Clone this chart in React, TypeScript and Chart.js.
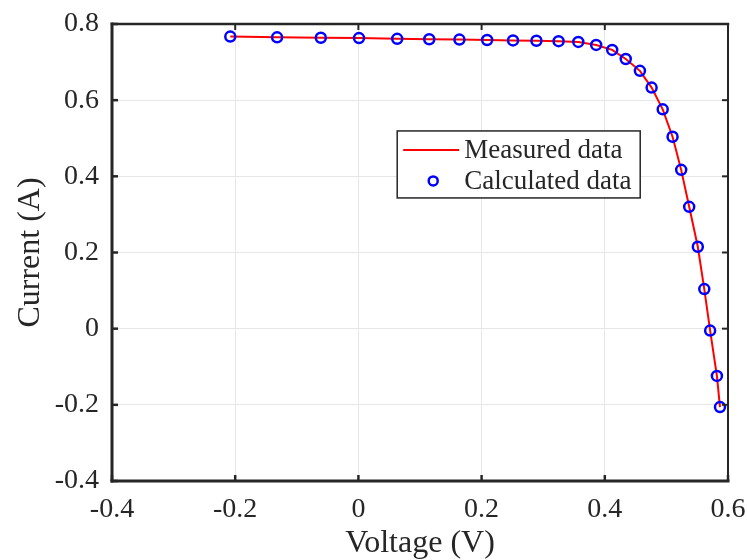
import React, { useEffect, useRef } from "react";
import { Chart, registerables } from "chart.js";

Chart.register(...registerables);

// Voltage (V) and current (A)
const measuredVoltage = [-0.208, -0.132, -0.061, 0.001, 0.063, 0.115, 0.164, 0.209, 0.251, 0.289, 0.325, 0.357, 0.386, 0.412, 0.434, 0.457, 0.476, 0.494, 0.510, 0.524, 0.537, 0.551, 0.5615, 0.571, 0.582, 0.587];
const measuredCurrent = [0.767, 0.765, 0.764, 0.763, 0.761, 0.760, 0.759, 0.758, 0.757, 0.756, 0.755, 0.753, 0.745, 0.732, 0.708, 0.677, 0.633, 0.576, 0.504, 0.417, 0.320, 0.215, 0.104, -0.005, -0.124, -0.206];
const calculatedVoltage = [-0.208, -0.132, -0.061, 0.001, 0.063, 0.115, 0.164, 0.209, 0.251, 0.289, 0.325, 0.357, 0.386, 0.412, 0.434, 0.457, 0.476, 0.494, 0.510, 0.524, 0.537, 0.551, 0.5615, 0.571, 0.582, 0.587];
const calculatedCurrent = [0.767, 0.765, 0.764, 0.763, 0.761, 0.760, 0.759, 0.758, 0.757, 0.756, 0.755, 0.753, 0.745, 0.732, 0.708, 0.677, 0.633, 0.576, 0.504, 0.417, 0.320, 0.215, 0.104, -0.005, -0.124, -0.206];

const xTicks = [-0.4, -0.2, 0, 0.2, 0.4, 0.6];
const yTicks = [-0.4, -0.2, 0, 0.2, 0.4, 0.6, 0.8];
const seriesLabels = ["Measured data", "Calculated data"];
const xTitle = "Voltage (V)";
const yTitle = "Current (A)";

const FONT = "'Liberation Serif', 'Times New Roman', serif";
const INK = "#262626";

const fmt = (v: number) => {
  const r = Math.round(v * 10) / 10;
  return r === 0 ? "0" : String(r);
};

const framePlugin = {
  id: "frame",
  afterDatasetsDraw(chart: any) {
    const { ctx, chartArea: a, scales } = chart;
    const xs = scales.x;
    const ys = scales.y;
    ctx.save();
    ctx.strokeStyle = INK;
    const line = (x1: number, y1: number, x2: number, y2: number, w: number) => {
      ctx.lineWidth = w;
      ctx.beginPath();
      ctx.moveTo(x1, y1);
      ctx.lineTo(x2, y2);
      ctx.stroke();
    };
    const tl = 6;
    ctx.lineCap = "butt";
    xTicks.forEach((t) => {
      const px = xs.getPixelForValue(t);
      line(px, a.bottom, px, a.bottom - tl, 2.5);
      line(px, a.top, px, a.top + tl, 2);
    });
    yTicks.forEach((t) => {
      const py = ys.getPixelForValue(t);
      line(a.left, py, a.left + tl, py, 2.5);
      line(a.right, py, a.right - tl, py, 2);
    });
    ctx.lineCap = "square";
    line(a.left, a.top, a.right, a.top, 2.5);
    line(a.right, a.top, a.right, a.bottom, 2);
    line(a.left, a.top, a.left, a.bottom, 3);
    line(a.left, a.bottom, a.right, a.bottom, 3);
    ctx.restore();
  },
};

const legendPlugin = {
  id: "boxLegend",
  afterDraw(chart: any) {
    const { ctx, chartArea: a } = chart;
    const w = a.right - a.left;
    const h = a.bottom - a.top;
    const bx = a.left + w * 0.463;
    const by = a.top + h * 0.234;
    const bw = 243;
    const bh = 67;
    ctx.save();
    ctx.fillStyle = "#ffffff";
    ctx.fillRect(bx, by, bw, bh);
    ctx.strokeStyle = INK;
    ctx.lineWidth = 1.5;
    ctx.strokeRect(bx, by, bw, bh);
    const y1 = by + 19;
    const y2 = by + 50;
    ctx.strokeStyle = "#ff0000";
    ctx.lineWidth = 2;
    ctx.beginPath();
    ctx.moveTo(bx + 6, y1);
    ctx.lineTo(bx + 62, y1);
    ctx.stroke();
    ctx.strokeStyle = "#0000ff";
    ctx.lineWidth = 2.5;
    ctx.beginPath();
    ctx.arc(bx + 36, y2, 4.5, 0, Math.PI * 2);
    ctx.stroke();
    ctx.fillStyle = INK;
    ctx.font = `27px ${FONT}`;
    ctx.textAlign = "left";
    ctx.textBaseline = "middle";
    ctx.fillText(seriesLabels[0], bx + 67, y1 + 1);
    ctx.fillText(seriesLabels[1], bx + 67, y2 + 1);
    ctx.restore();
  },
};

export default function App() {
  const ref = useRef<HTMLCanvasElement | null>(null);

  useEffect(() => {
    document.body.style.margin = "0";
    const canvas = ref.current;
    if (!canvas) return;
    const chart = new Chart(canvas, {
      type: "scatter",
      data: {
        datasets: [
          {
            label: seriesLabels[0],
            data: measuredVoltage.map((v, i) => ({ x: v, y: measuredCurrent[i] })),
            showLine: true,
            borderColor: "#ff0000",
            borderWidth: 2,
            pointRadius: 0,
            fill: false,
            order: 2,
          },
          {
            label: seriesLabels[1],
            data: calculatedVoltage.map((v, i) => ({ x: v, y: calculatedCurrent[i] })),
            showLine: false,
            borderColor: "#0000ff",
            backgroundColor: "rgba(0,0,0,0)",
            borderWidth: 2.5,
            pointRadius: 5,
            pointStyle: "circle",
            order: 1,
          },
        ],
      },
      options: {
        animation: false,
        responsive: false,
        maintainAspectRatio: false,
        layout: { padding: { top: 24, right: 19, left: 0, bottom: 0 } },
        plugins: {
          legend: { display: false },
          tooltip: { enabled: false },
        },
        scales: {
          x: {
            type: "linear",
            min: -0.4,
            max: 0.6,
            afterBuildTicks: (s: any) => {
              s.ticks = xTicks.map((v) => ({ value: v }));
            },
            afterFit: (s: any) => {
              s.height = 79;
              s.paddingLeft = 0;
              s.paddingRight = 0;
            },
            ticks: {
              callback: (v: any) => fmt(Number(v)),
              color: INK,
              font: { family: FONT, size: 28 },
              padding: 12,
              maxRotation: 0,
              autoSkip: false,
            },
            grid: { color: "#e6e6e6", lineWidth: 1, drawTicks: false },
            border: { display: false },
            title: {
              display: true,
              text: xTitle,
              color: INK,
              font: { family: FONT, size: 32, lineHeight: 1.0 },
              padding: 0,
            },
          },
          y: {
            type: "linear",
            min: -0.4,
            max: 0.8,
            afterBuildTicks: (s: any) => {
              s.ticks = yTicks.map((v) => ({ value: v }));
            },
            afterFit: (s: any) => {
              s.width = 112;
              s.paddingTop = 0;
              s.paddingBottom = 0;
            },
            ticks: {
              callback: (v: any) => fmt(Number(v)),
              color: INK,
              font: { family: FONT, size: 28 },
              padding: 13,
              autoSkip: false,
            },
            grid: { color: "#e6e6e6", lineWidth: 1, drawTicks: false },
            border: { display: false },
            title: {
              display: true,
              text: yTitle,
              color: INK,
              font: { family: FONT, size: 32 },
              padding: { top: 11, bottom: 0 },
            },
          },
        },
      },
      plugins: [framePlugin, legendPlugin],
    } as any);
    return () => chart.destroy();
  }, []);

  return (
    <div style={{ width: 747, height: 560, background: "#ffffff" }}>
      <canvas ref={ref} width={747} height={560} style={{ display: "block" }} />
    </div>
  );
}
